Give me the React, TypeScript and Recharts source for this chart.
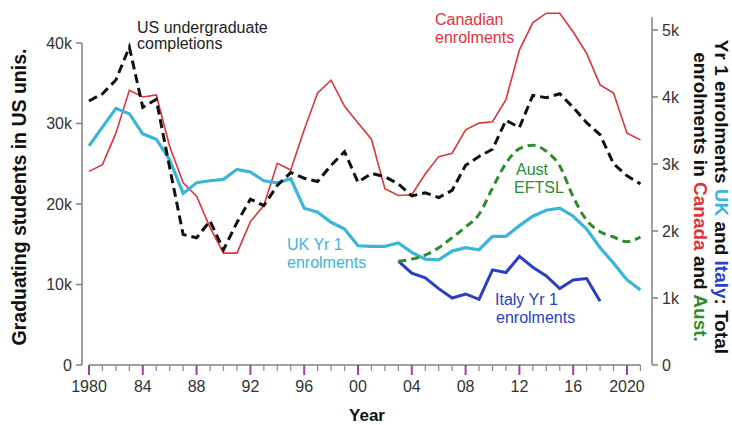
import React from 'react';
import { LineChart, Line, XAxis, YAxis, ReferenceLine } from 'recharts';

const years = [
  1980, 1981, 1982, 1983, 1984, 1985, 1986, 1987, 1988, 1989,
  1990, 1991, 1992, 1993, 1994, 1995, 1996, 1997, 1998, 1999,
  2000, 2001, 2002, 2003, 2004, 2005, 2006, 2007, 2008, 2009,
  2010, 2011, 2012, 2013, 2014, 2015, 2016, 2017, 2018, 2019,
  2020, 2021,
];

// US undergraduate completions (thousands, left axis)
const usCompletions = [
  32.8, 33.7, 35.4, 39.5, 32.0, 33.0, 24.5, 16.2, 15.8, 17.9,
  14.3, 17.7, 20.6, 19.8, 22.3, 23.9, 23.2, 22.8, 24.8, 26.5,
  22.7, 23.8, 23.4, 22.5, 21.0, 21.4, 20.8, 21.7, 24.8, 25.9,
  26.8, 30.4, 29.5, 33.5, 33.2, 33.7, 32.0, 30.1, 28.6, 25.0,
  23.5, 22.5,
];

// Canadian enrolments (thousands, right axis)
const canadaEnrol = [
  2.89, 2.99, 3.46, 4.10, 4.00, 4.03, 3.26, 2.72, 2.52, 2.05,
  1.67, 1.67, 2.14, 2.38, 3.01, 2.91, 3.51, 4.06, 4.25, 3.86,
  3.61, 3.37, 2.63, 2.53, 2.54, 2.85, 3.11, 3.16, 3.51, 3.61,
  3.63, 3.96, 4.70, 5.11, 5.25, 5.25, 4.97, 4.65, 4.18, 4.06,
  3.46, 3.36,
];

// UK Yr 1 enrolments (thousands, right axis)
const ukEnrol = [
  3.27, 3.55, 3.83, 3.75, 3.45, 3.37, 3.06, 2.56, 2.72, 2.75,
  2.77, 2.92, 2.88, 2.75, 2.72, 2.78, 2.34, 2.28, 2.13, 2.03,
  1.78, 1.77, 1.77, 1.82, 1.68, 1.58, 1.57, 1.70, 1.75, 1.72,
  1.92, 1.92, 2.08, 2.22, 2.31, 2.34, 2.22, 2.03, 1.75, 1.52,
  1.27, 1.12,
];

// Italy Yr 1 enrolments (thousands, right axis)
const italyYears = [2003, 2004, 2005, 2006, 2007, 2008, 2009, 2010, 2011, 2012, 2013, 2014, 2015, 2016, 2017, 2018];
const italyEnrol = [1.55, 1.37, 1.30, 1.14, 1.00, 1.06, 0.98, 1.42, 1.38, 1.62, 1.46, 1.33, 1.14, 1.27, 1.29, 0.95];

// Australian EFTSL (thousands, right axis)
const austYears = [2003, 2004, 2005, 2006, 2007, 2008, 2009, 2010, 2011, 2012, 2013, 2014, 2015, 2016, 2017, 2018, 2019, 2020, 2021];
const austEftsl = [1.55, 1.58, 1.64, 1.75, 1.90, 2.06, 2.25, 2.64, 3.01, 3.23, 3.28, 3.19, 2.97, 2.51, 2.16, 1.99, 1.91, 1.84, 1.91];

const leftTicks = [0, 10, 20, 30, 40];
const rightTicks = [0, 1, 2, 3, 4, 5];

const data = years.map((year, i) => {
  const it = italyYears.indexOf(year);
  const au = austYears.indexOf(year);
  return {
    year,
    us: usCompletions[i],
    canada: canadaEnrol[i],
    uk: ukEnrol[i],
    italy: it >= 0 ? italyEnrol[it] : null,
    aust: au >= 0 ? austEftsl[au] : null,
  };
});

const X_MIN = 1979.48;
const X_MAX = 2021.86;
const FONT = '"Liberation Sans", Arial, sans-serif';
const AXIS = '#808080';

const kFmt = (v: number) => (v === 0 ? '0' : `${v}k`);

const XTick = (props: any) => {
  const { x, y, payload } = props;
  const yr = payload.value as number;
  const major = (yr - 1980) % 4 === 0;
  const label = yr === 1980 || yr === 2020 ? String(yr) : String(yr).slice(2);
  return (
    <g>
      <line
        x1={x}
        y1={y}
        x2={x}
        y2={y + (major ? 10 : 6)}
        stroke={major ? '#a0409f' : '#8a8a8a'}
        strokeWidth={major ? 2 : 1.2}
      />
      {major && (
        <text x={x} y={y + 26.5} textAnchor="middle" fontSize={16} fill="#333" fontFamily={FONT}>
          {label}
        </text>
      )}
    </g>
  );
};

export default function App() {
  return (
    <div style={{ position: 'relative', width: 732, height: 425, overflow: 'hidden', background: '#fff' }}>
      <style>{'html,body{margin:0;padding:0;}'}</style>
      <div style={{ position: 'absolute', left: 8, top: 8, width: 724, height: 417, fontFamily: FONT }}>
        <LineChart
          width={724}
          height={417}
          data={data}
          margin={{ top: 3, right: 0, bottom: 0, left: 0 }}
        >
          <XAxis
            dataKey="year"
            type="number"
            domain={[X_MIN, X_MAX]}
            ticks={years}
            interval={0}
            allowDataOverflow
            axisLine={false}
            tickLine={false}
            tickSize={0}
            tickMargin={0}
            height={60}
            tick={<XTick />}
          />
          <YAxis
            yAxisId="left"
            orientation="left"
            width={74}
            domain={[0, 43.975]}
            ticks={leftTicks}
            tickFormatter={kFmt}
            axisLine={false}
            tickLine={{ stroke: AXIS, strokeWidth: 1.5 }}
            tickSize={6}
            tickMargin={4}
            tick={{ fontSize: 16, fill: '#333', fontFamily: FONT }}
            allowDataOverflow
          />
          <YAxis
            yAxisId="right"
            orientation="right"
            width={80}
            domain={[0, 5.283]}
            ticks={rightTicks}
            tickFormatter={kFmt}
            axisLine={false}
            tickLine={{ stroke: AXIS, strokeWidth: 1.5 }}
            tickSize={6}
            tickMargin={4}
            tick={{ fontSize: 16, fill: '#333', fontFamily: FONT, textAnchor: 'start' }}
            allowDataOverflow
          />
          <ReferenceLine
            yAxisId="left"
            segment={[{ x: X_MIN, y: 0 }, { x: X_MIN, y: 40 }]}
            stroke={AXIS}
            strokeWidth={1.5}
            ifOverflow="visible"
          />
          <ReferenceLine
            yAxisId="right"
            segment={[{ x: X_MAX, y: 0 }, { x: X_MAX, y: 5.19 }]}
            stroke={AXIS}
            strokeWidth={1.5}
            ifOverflow="visible"
          />
          <ReferenceLine
            yAxisId="left"
            segment={[{ x: 1980, y: 0 }, { x: 2021, y: 0 }]}
            stroke={AXIS}
            strokeWidth={1.5}
            ifOverflow="visible"
          />
          <Line yAxisId="right" dataKey="canada" type="linear" stroke="#e0343c" strokeWidth={1.6} dot={false} isAnimationActive={false} />
          <Line yAxisId="right" dataKey="uk" type="linear" stroke="#3cb6d8" strokeWidth={3.2} dot={false} isAnimationActive={false} />
          <Line yAxisId="right" dataKey="italy" type="linear" stroke="#2a3fc4" strokeWidth={3} dot={false} isAnimationActive={false} />
          <Line yAxisId="right" dataKey="aust" type="monotone" stroke="#2e8b2e" strokeWidth={3} strokeDasharray="8 5" dot={false} isAnimationActive={false} />
          <Line yAxisId="left" dataKey="us" type="linear" stroke="#111" strokeWidth={3} strokeDasharray="9 5" dot={false} isAnimationActive={false} />
        </LineChart>
        <svg
          width={724}
          height={417}
          style={{ position: 'absolute', left: 0, top: 0, pointerEvents: 'none' }}
          fontFamily={FONT}
        >
          <text x={129} y={25} fontSize={16} fill="#222">US undergraduate</text>
          <text x={129} y={41} fontSize={16} fill="#222">completions</text>
          <text x={427} y={17} fontSize={16} fill="#e0343c">Canadian</text>
          <text x={427} y={35} fontSize={16} fill="#e0343c">enrolments</text>
          <text x={508} y={167} fontSize={16} fill="#2e8b2e">Aust</text>
          <text x={506} y={185} fontSize={16} fill="#2e8b2e">EFTSL</text>
          <text x={279} y={242} fontSize={16} fill="#3cb6d8">UK Yr 1</text>
          <text x={279} y={260} fontSize={16} fill="#3cb6d8">enrolments</text>
          <text x={487} y={297} fontSize={16} fill="#2a3fc4">Italy Yr 1</text>
          <text x={488} y={315} fontSize={16} fill="#2a3fc4">enrolments</text>
          <text x={359} y={413} fontSize={17} fontWeight="bold" fill="#111" textAnchor="middle">Year</text>
          <text
            x={18}
            y={189}
            fontSize={19.5}
            fontWeight="bold"
            fill="#111"
            textAnchor="middle"
            transform="rotate(-90, 18, 189)"
          >
            Graduating students in US unis.
          </text>
          <text
            x={707}
            y={189}
            fontSize={19}
            fontWeight="bold"
            fill="#111"
            textAnchor="middle"
            transform="rotate(90, 707, 189)"
          >
            Yr 1 enrolments <tspan fill="#3cb6d8">UK</tspan> and <tspan fill="#2a3fc4">Italy</tspan>: Total
          </text>
          <text
            x={686}
            y={189}
            fontSize={19}
            fontWeight="bold"
            fill="#111"
            textAnchor="middle"
            transform="rotate(90, 686, 189)"
          >
            enrolments in <tspan fill="#e0343c">Canada</tspan> and <tspan fill="#2e8b2e">Aust.</tspan>
          </text>
        </svg>
      </div>
    </div>
  );
}
